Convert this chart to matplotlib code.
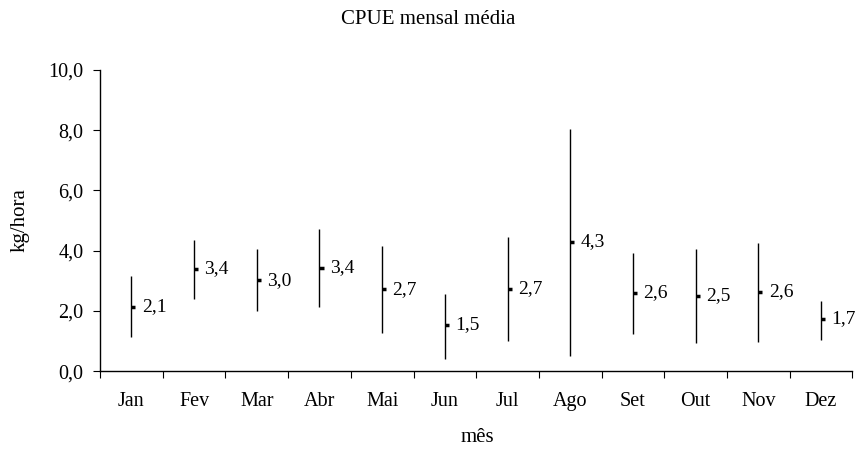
import numpy as np
import matplotlib.pyplot as plt
from matplotlib.ticker import FuncFormatter

# CPUE mensal: média, mínimo e máximo (kg/hora)
meses = ["Jan", "Fev", "Mar", "Abr", "Mai", "Jun", "Jul", "Ago", "Set", "Out", "Nov", "Dez"]
media = [2.14, 3.39, 3.02, 3.44, 2.72, 1.54, 2.74, 4.29, 2.60, 2.50, 2.63, 1.73]
minimo = [1.12, 2.41, 1.99, 2.12, 1.27, 0.42, 1.01, 0.52, 1.22, 0.94, 0.97, 1.02]
maximo = [3.16, 4.37, 4.04, 4.72, 4.15, 2.56, 4.44, 8.03, 3.91, 4.04, 4.26, 2.33]

plt.rcParams["font.family"] = ["Liberation Serif", "DejaVu Serif"]

fig = plt.figure(figsize=(8.57, 4.51), dpi=100)
ax = fig.add_axes([0.1167, 0.177, 0.878, 0.668])

x = np.arange(1, len(meses) + 1)
ax.vlines(x, minimo, maximo, color="black", lw=1.0)
ax.hlines(media, x, x + 0.065, color="black", lw=2.5)
for xi, m in zip(x, media):
    ax.annotate(f"{m:.1f}".replace(".", ","), (xi, m), xytext=(7.5, 0),
                textcoords="offset points", va="center", ha="left", fontsize=14)

ax.set_xlim(0.5, 12.5)
ax.set_ylim(0, 10)
ax.set_yticks(np.arange(0, 11, 2))
ax.yaxis.set_major_formatter(FuncFormatter(lambda v, p: f"{v:.1f}".replace(".", ",")))
ax.set_xticks(np.arange(0.5, 13, 1))
ax.set_xticklabels([])
ax.set_xticks(x, minor=True)
ax.set_xticklabels(meses, minor=True)
ax.tick_params(axis="x", which="minor", length=0, pad=15, labelsize=14.5)
ax.tick_params(axis="x", which="major", length=5, direction="out")
ax.tick_params(axis="y", length=5, direction="out", labelsize=14.5, pad=7)

for s in ["top", "right"]:
    ax.spines[s].set_visible(False)
ax.spines["left"].set_linewidth(1.0)
ax.spines["bottom"].set_linewidth(1.0)

fig.text(428 / 857, 1 - 20 / 451, "CPUE mensal média", ha="center", va="center", fontsize=15)
fig.text(477 / 857, 1 - 438 / 451, "mês", ha="center", va="center", fontsize=15)
fig.text(20 / 857, 1 - 220 / 451, "kg/hora", ha="center", va="center", rotation=90, fontsize=15)

fig.savefig("out.png", dpi=100)
